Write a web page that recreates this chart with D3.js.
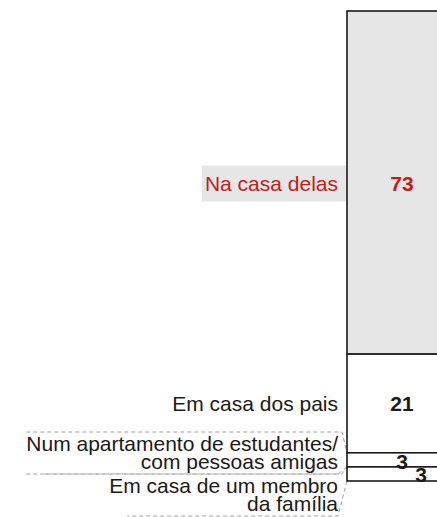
<!DOCTYPE html>
<html>
<head>
<meta charset="utf-8">
<script src="https://cdn.jsdelivr.net/npm/d3@7"></script>
<style>
  html, body { margin: 0; padding: 0; background: #fff; }
  svg { display: block; font-family: "Liberation Sans", Arial, sans-serif; }
</style>
</head>
<body>
<script>
// values (percentages)
const categories = [
  ["Na casa delas"],
  ["Em casa dos pais"],
  ["Num apartamento de estudantes/", "com pessoas amigas"],
  ["Em casa de um membro", "da família"]
];
const values = [73, 21, 3, 3];
const highlighted = [true, false, false, false];

const width = 437, height = 517;
const barLeft = 347, barWidth = 110;
const red = "#c0201a", ink = "#1a1a1a";
const fontSize = 21;

const svg = d3.select("body").append("svg")
  .attr("width", width)
  .attr("height", height);

const y = d3.scaleLinear().domain([0, d3.sum(values)]).range([11, 481]);
const x = d3.scaleBand().domain(["bar"]).range([barLeft, barLeft + barWidth]).padding(0);

// cumulative stacking
const stacked = [];
let acc = 0;
values.forEach((v, i) => {
  stacked.push({ i, v, y0: acc, y1: acc + v, label: categories[i] });
  acc += v;
});

const labelRight = 338;

// big categories: label beside the segment
stacked.filter(d => d.v >= 10).forEach(d => {
  const cy = (y(d.y0) + y(d.y1)) / 2;
  const t = svg.append("text")
    .attr("x", labelRight)
    .attr("y", cy + 8)
    .attr("text-anchor", "end")
    .attr("font-size", fontSize)
    .attr("fill", highlighted[d.i] ? red : ink)
    .text(d.label[0]);
  if (highlighted[d.i]) {
    const bb = t.node().getBBox();
    svg.insert("rect", ":first-child")
      .attr("x", bb.x - 3)
      .attr("y", cy - 17)
      .attr("width", barLeft - bb.x + 3)
      .attr("height", 36)
      .attr("fill", "#e6e6e6");
  }
});

// small categories: stacked text boxes below with dashed leaders
let boxTop = 432;
let prevLeft = null;
stacked.filter(d => d.v < 10).forEach(d => {
  const t = svg.append("text")
    .attr("text-anchor", "end")
    .attr("font-size", fontSize)
    .attr("fill", ink);
  d.label.forEach((line, k) => {
    t.append("tspan")
      .attr("x", labelRight)
      .attr("y", boxTop + 19 + k * 17.5)
      .text(line);
  });
  const bb = t.node().getBBox();
  const boxBottom = boxTop + 42;
  const left = bb.x;
  const topLeft = prevLeft === null ? left : Math.min(left, prevLeft);
  const dashed = sel => sel
    .attr("fill", "none")
    .attr("stroke", "#a0a0a0")
    .attr("stroke-width", 1)
    .attr("stroke-dasharray", "4,3");
  // top edge + leader to the segment top
  svg.insert("path", ":first-child")
    .attr("d", d3.line()([[topLeft, boxTop], [labelRight + 4, boxTop], [barLeft, y(d.y0)]]))
    .call(dashed);
  // leader from segment bottom + bottom edge
  svg.insert("path", ":first-child")
    .attr("d", d3.line()([[barLeft, y(d.y1)], [labelRight, boxBottom], [left + 18, boxBottom]]))
    .call(dashed);
  prevLeft = left;
  boxTop = boxBottom;
});

// bar segments
svg.append("g")
  .selectAll("rect")
  .data(stacked)
  .join("rect")
  .attr("x", x("bar"))
  .attr("y", d => y(d.y0))
  .attr("width", x.bandwidth())
  .attr("height", d => y(d.y1) - y(d.y0))
  .attr("fill", d => highlighted[d.i] ? "#e6e6e6" : "#fff")
  .attr("stroke", ink)
  .attr("stroke-width", 1.6);

// value labels
let smallCount = 0;
stacked.forEach(d => {
  const cx = x("bar") + x.bandwidth() / 2;
  let tx = cx, ty;
  if (d.v >= 10) {
    ty = (y(d.y0) + y(d.y1)) / 2 + 8;
  } else {
    tx = cx + smallCount * 19;
    ty = y(d.y1) + 2 - smallCount;
    smallCount++;
  }
  svg.append("text")
    .attr("x", tx)
    .attr("y", ty)
    .attr("text-anchor", "middle")
    .attr("font-size", fontSize)
    .attr("font-weight", "bold")
    .attr("fill", highlighted[d.i] ? red : ink)
    .text(d.v);
});
</script>
</body>
</html>
